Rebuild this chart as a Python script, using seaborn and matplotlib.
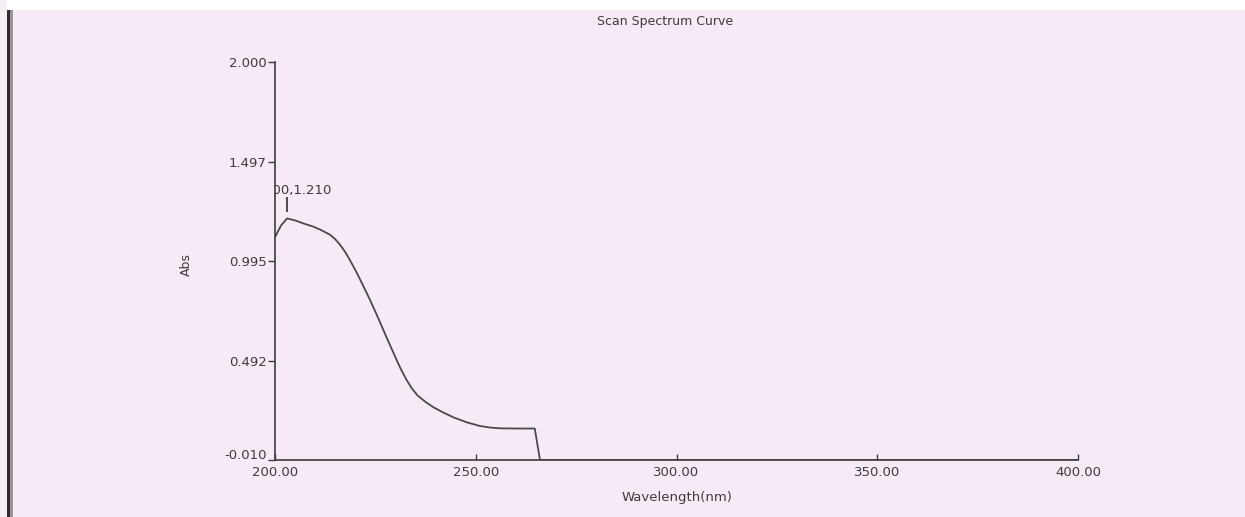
import matplotlib
matplotlib.use("Agg")
import matplotlib.pyplot as plt
from matplotlib.patches import Rectangle
from matplotlib.transforms import ScaledTranslation
import seaborn as sns
import pandas as pd

# Absorbance scan, 200-400 nm
wavelength = [200.0, 201.5, 203.0, 205.0, 207.0, 208.7, 209.5, 211.2, 213.7,
              215.0, 216.2, 217.5, 218.7, 220.3, 221.9, 223.7, 225.4, 227.9,
              229.2, 230.4, 231.5, 232.7, 234.0, 235.5, 237.5, 239.5, 241.8,
              244.5, 247.8, 251.0, 253.5, 256.0, 260.0, 264.7, 266.0, 300.0,
              350.0, 400.0]
absorbance = [1.115, 1.174, 1.210, 1.200, 1.185, 1.174, 1.169, 1.154, 1.128,
              1.105, 1.077, 1.040, 0.998, 0.938, 0.873, 0.797, 0.721, 0.604,
              0.545, 0.490, 0.443, 0.397, 0.354, 0.316, 0.283, 0.256, 0.231,
              0.205, 0.180, 0.162, 0.154, 0.150, 0.149, 0.149, -0.010, -0.010,
              -0.010, -0.010]

x_ticks = [200.0, 250.0, 300.0, 350.0, 400.0]
y_ticks = [-0.010, 0.492, 0.995, 1.497, 2.000]

peak_wl = 203.0
peak_abs = 1.210

paper = "#f7eaf7"
ink = "#3c3c3c"

sns.set_theme(style="white")
plt.rcParams["font.family"] = ["DejaVu Sans"]

df = pd.DataFrame({"Wavelength(nm)": wavelength, "Abs": absorbance})

W, H = 1245, 517
fig = plt.figure(figsize=(W / 100, H / 100), dpi=100, facecolor=paper)

# scanner edges: white strip on top, dark edge on the left
fig.patches.append(Rectangle((0, 1 - 10 / H), 1, 10 / H, transform=fig.transFigure,
                             facecolor="white", edgecolor="none", zorder=0))
fig.patches.append(Rectangle((0, 0), 7 / W, 1, transform=fig.transFigure,
                             facecolor="#f4f0f4", edgecolor="none", zorder=0))
fig.patches.append(Rectangle((7 / W, 0), 3 / W, 1 - 10 / H, transform=fig.transFigure,
                             facecolor="#2e2a2e", edgecolor="none", zorder=0))
fig.patches.append(Rectangle((10 / W, 0), 3 / W, 1 - 10 / H, transform=fig.transFigure,
                             facecolor="#9a929a", edgecolor="none", zorder=0))

left, right = 275 / W, 1078 / W
bottom, top = 1 - 460 / H, 1 - 62 / H
ax = fig.add_axes([left, bottom, right - left, top - bottom])
ax.set_facecolor("none")

sns.lineplot(data=df, x="Wavelength(nm)", y="Abs", ax=ax, color="#4a4a4a",
             linewidth=1.3, sort=False)

ax.set_xlim(200, 400)
ax.set_ylim(-0.010, 2.000)
ax.set_xticks(x_ticks)
ax.set_xticklabels([f"{v:.2f}" for v in x_ticks])
ax.set_yticks(y_ticks)
ax.set_yticklabels([f"{v:.3f}" for v in y_ticks])

for side in ("top", "right"):
    ax.spines[side].set_visible(False)
for side in ("left", "bottom"):
    ax.spines[side].set_color(ink)
    ax.spines[side].set_linewidth(1.2)

ax.tick_params(axis="x", direction="in", length=4, width=1, color=ink,
               labelsize=9.5, labelcolor=ink, pad=4, bottom=True)
ax.tick_params(axis="y", direction="out", length=5, width=1, color=ink,
               labelsize=9.5, labelcolor=ink, pad=1, left=True)

# lift the lowest y label so it sits above the x labels
low_label = ax.get_yticklabels()[0]
low_label.set_transform(low_label.get_transform()
                        + ScaledTranslation(0, 4 / 72, fig.dpi_scale_trans))

ax.set_xlabel("Wavelength(nm)", fontsize=9.5, color=ink, labelpad=9)
ax.set_ylabel("Abs", fontsize=9, color=ink)
ax.yaxis.set_label_coords(-0.102, 0.49)

# peak marker and its label, clipped at the axis like the instrument print
ax.vlines(peak_wl, peak_abs + 0.03, peak_abs + 0.11, color=ink, linewidth=1.3)
ax.text(peak_wl, peak_abs + 0.125, f"{peak_wl:.2f},{peak_abs:.3f}", ha="center",
        va="baseline", fontsize=9.5, color=ink, clip_on=True)

fig.text(665 / W, 1 - 22 / H, "Scan Spectrum Curve", ha="center", va="center",
         fontsize=9, color=ink)

fig.savefig("out.png", dpi=100, facecolor=paper)
